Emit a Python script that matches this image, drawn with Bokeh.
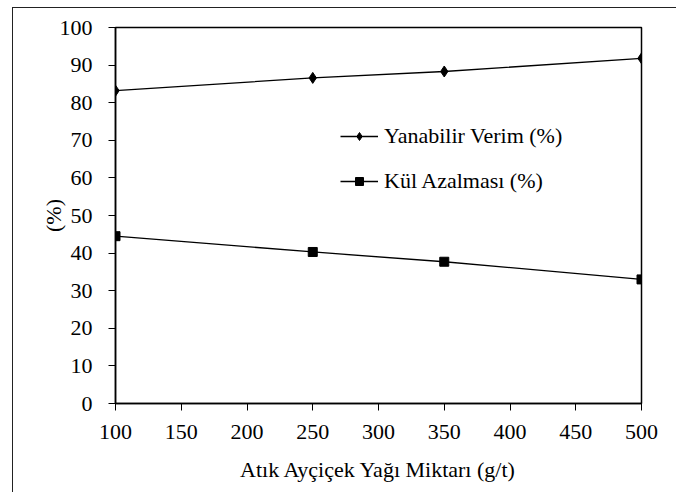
from bokeh.plotting import figure
from bokeh.models import Legend, LegendItem, FixedTicker
from bokeh.embed import file_html
from bokeh.resources import INLINE

x_vals = [100, 250, 350, 500]
yanabilir = [83.2, 86.6, 88.3, 91.8]
kul = [44.5, 40.3, 37.7, 33.0]
x_ticks = [100, 150, 200, 250, 300, 350, 400, 450, 500]
y_ticks = [0, 10, 20, 30, 40, 50, 60, 70, 80, 90, 100]
label1 = "Yanabilir Verim (%)"
label2 = "Kül Azalması (%)"
x_title = "Atık Ayçiçek Yağı Miktarı (g/t)"
y_title = "(%)"

FONT = "'Liberation Serif', 'Times New Roman', serif"
FS = "22px"

p = figure(width=664, height=485, output_backend="svg", toolbar_location=None,
           x_range=(100, 500), y_range=(0, 100),
           min_border_left=102, min_border_right=36, min_border_top=19, min_border_bottom=90)
p.styles = {"border-left": "1.5px solid #222", "border-top": "1.5px solid #222",
            "margin-left": "12px", "margin-top": "7px"}
p.xgrid.visible = False
p.ygrid.visible = False
p.outline_line_color = "black"
p.outline_line_width = 1.5

for ax in (p.xaxis[0], p.yaxis[0]):
    ax.axis_line_color = "black"
    ax.axis_line_width = 1.5
    ax.major_tick_line_color = "black"
    ax.major_tick_line_width = 1
    ax.major_tick_out = 7
    ax.major_tick_in = 0
    ax.minor_tick_line_color = None
    ax.major_label_text_font = FONT
    ax.major_label_text_font_size = FS
    ax.major_label_text_color = "black"
    ax.axis_label_text_font = FONT
    ax.axis_label_text_font_size = FS
    ax.axis_label_text_font_style = "normal"
    ax.axis_label_text_color = "black"

p.xaxis[0].ticker = FixedTicker(ticks=x_ticks)
p.yaxis[0].ticker = FixedTicker(ticks=y_ticks)
p.xaxis[0].axis_label = x_title
p.yaxis[0].axis_label = y_title
p.xaxis[0].major_label_standoff = 14
p.yaxis[0].major_label_standoff = 16
p.xaxis[0].axis_label_standoff = 15
p.yaxis[0].axis_label_standoff = -9

l1 = p.line(x_vals, yanabilir, line_color="black", line_width=1.3)
m1 = p.scatter(x_vals, yanabilir, marker="diamond", size=11, fill_color="black", line_color="black")
l2 = p.line(x_vals, kul, line_color="black", line_width=1.3)
m2 = p.scatter(x_vals, kul, marker="square", size=9, fill_color="black", line_color="black")

legend = Legend(items=[LegendItem(label=label1, renderers=[l1, m1]),
                       LegendItem(label=label2, renderers=[l2, m2])],
                location=(225, 209), orientation="vertical")
legend.label_text_font = FONT
legend.label_text_font_size = FS
legend.label_text_color = "black"
legend.glyph_width = 38
legend.label_standoff = 6
legend.spacing = 19
legend.padding = 0
legend.margin = 0
legend.border_line_color = None
legend.background_fill_alpha = 0
p.add_layout(legend)

open("out.html", "w").write(file_html(p, INLINE))
